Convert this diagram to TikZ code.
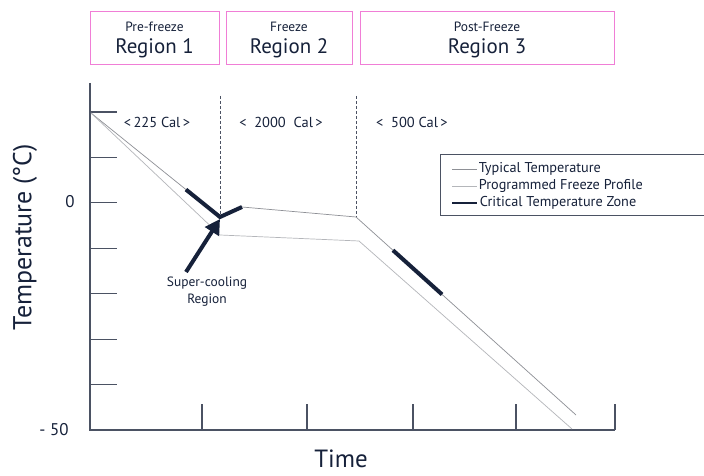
\documentclass[tikz,border=0pt]{standalone}
\usepackage{fontspec}
\setmainfont{PT Sans}
\usetikzlibrary{arrows.meta, calc}
\definecolor{navy}{HTML}{16213A}
\definecolor{pinkbox}{HTML}{F07ED6}
\definecolor{axisgray}{HTML}{4B5263}
\definecolor{typgray}{HTML}{8E9096}
\definecolor{proggray}{HTML}{B4B6BA}
\tikzset{
  regbox/.style={draw=pinkbox, line width=1bp, inner sep=0pt},
  smalltxt/.style={text=navy, font=\fontsize{13.5}{15}\selectfont, inner sep=0pt},
  caltxt/.style={text=navy, font=\fontsize{14.5}{16}\selectfont, inner sep=0pt},
  legtxt/.style={text=navy, font=\fontsize{14.3}{16}\selectfont, inner sep=0pt},
  bigtxt/.style={text=navy, font=\fontsize{21}{24}\selectfont, inner sep=0pt},
  axlabel/.style={text=navy, font=\fontsize{26}{30}\selectfont, inner sep=0pt},
  numtxt/.style={text=navy, font=\fontsize{17}{20}\selectfont, inner sep=0pt},
  typical/.style={typgray, line width=0.7bp},
  programmed/.style={proggray, line width=0.7bp},
  critical/.style={navy, line width=4bp},
  axisline/.style={axisgray, line width=1.2bp}
}
\begin{document}
\begin{tikzpicture}[x=1bp, y=-1bp]
\useasboundingbox[fill=white] (0,0) rectangle (704,476);
% region boxes
\node[regbox, minimum width=129bp, minimum height=53bp] (box1) at (154.5,38.5) {};
\node[regbox, minimum width=126bp, minimum height=53bp] (box2) at (289,38.5) {};
\node[regbox, minimum width=254bp, minimum height=53bp] (box3) at (487,38.5) {};
\node[smalltxt] (pre) at (154.5,27) {Pre-freeze};
\node[bigtxt] (reg1) at (154.5,48.5) {Region 1};
\node[smalltxt] (frz) at (289,27) {Freeze};
\node[bigtxt] (reg2) at (289,48.5) {Region 2};
\node[smalltxt] (post) at (487,27) {Post-Freeze};
\node[bigtxt] (reg3) at (487,48.5) {Region 3};
% axes
\coordinate (ytop) at (90,83);
\coordinate (orig) at (90,430);
\coordinate (xend) at (615,430);
\draw[axisline] (ytop) -- (orig) -- (xend);
\foreach \k in {0,...,6}
  \draw[axisline] (90,112+45.43*\k) -- +(27,0);
\foreach \x in {202,307,413,516,615}
  \draw[axisline] (\x,430) -- +(0,-26);
\node[numtxt] (zero) at (70,202) {0};
\node[numtxt] (minfifty) at (54,430) {- 50};
\node[axlabel, rotate=90] (ylab) at (25,237) {Temperature (°C)};
\node[axlabel, font=\fontsize{25}{28}\selectfont] (xlab) at (341,459) {Time};
% energy per region
\node[caltxt] (cal1) at (157,122) {<\,225 Cal\,>};
\node[caltxt] (cal2) at (281,122) {<~~2000~~Cal\,>};
\node[caltxt] (cal3) at (412,122) {<~~500 Cal\,>};
% typical temperature
\coordinate (start) at (91,113);
\coordinate (dip) at (220,217);
\coordinate (peak) at (242,207);
\coordinate (platend) at (356,217);
\coordinate (tend) at (576,415);
\draw[typical] (start) -- (dip) -- (peak) -- (platend) -- (tend);
% programmed freeze profile
\coordinate (pbend) at (220,235);
\coordinate (pplat) at (359,241);
\coordinate (pend) at (572,429);
\draw[programmed] (start) -- (pbend) -- (pplat) -- (pend);
% region borders
\draw[axisgray, line width=0.8bp, dash pattern=on 3bp off 2bp] (220,96) -- (dip);
\draw[axisgray, line width=0.8bp, dash pattern=on 3bp off 2bp] (356,96) -- (platend);
% critical zones
\draw[critical] ($(start)!0.736!(dip)$) -- (dip) -- (peak);
\draw[critical] ($(platend)!0.168!(tend)$) -- ($(platend)!0.391!(tend)$);
% super-cooling
\coordinate (arrtail) at (186,272);
\draw[navy, line width=4bp, -{Triangle[length=15bp, width=16bp]}] (arrtail) -- (220,219);
\node[smalltxt] (sup) at (207,283) {Super-cooling};
\node[smalltxt] (supreg) at (207,300) {Region};
% legend
\draw[axisgray, line width=1bp] (440,155) rectangle (720,216);
\draw[typical] (452,169) -- (477,169) node[legtxt, anchor=west, xshift=1.5bp] (leg1) {Typical Temperature};
\draw[programmed] (452,186) -- (477,186) node[legtxt, anchor=west, xshift=1.5bp] (leg2) {Programmed Freeze Profile};
\draw[navy, line width=2.5bp] (452,203) -- (477,203) node[legtxt, anchor=west, xshift=1.5bp] (leg3) {Critical Temperature Zone};
\end{tikzpicture}
\end{document}
